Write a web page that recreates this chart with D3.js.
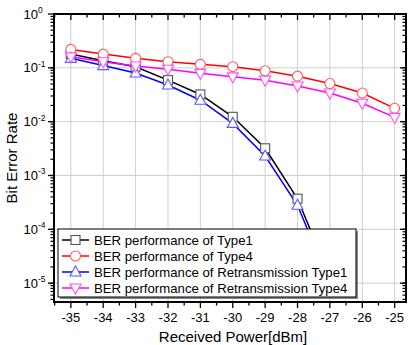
<!DOCTYPE html>
<html>
<head>
<meta charset="utf-8">
<script src="https://cdn.jsdelivr.net/npm/d3@7"></script>
<style>
  body { margin: 0; background: #fff; }
  svg { font-family: "Liberation Sans", Arial, sans-serif; }
</style>
</head>
<body>
<div id="chart"></div>
<script>
// received power (dBm)
var power = [-35, -34, -33, -32, -31, -30, -29, -28, -27, -26, -25];
var type1 = [0.18, 0.135, 0.105, 0.059, 0.032, 0.0123, 0.0032, 0.00037, 0.000013];
var type4 = [0.22, 0.18, 0.15, 0.13, 0.116, 0.105, 0.088, 0.07, 0.051, 0.034, 0.0177];
var reType1 = [0.15, 0.11, 0.08, 0.048, 0.025, 0.0093, 0.0023, 0.00028, 0.00001];
var reType4 = [0.16, 0.13, 0.108, 0.094, 0.079, 0.068, 0.059, 0.046, 0.034, 0.022, 0.012];
var names = ["BER performance of Type1", "BER performance of Type4",
             "BER performance of Retransmission Type1", "BER performance of Retransmission Type4"];
var decades = [0, -1, -2, -3, -4, -5];

var w = 410, h = 345;
var pL = 54, pR = 406, pT = 14, pB = 302;

var svg = d3.select('#chart').append('svg')
  .attr('width', w).attr('height', h);

var x = d3.scaleLinear().domain([-35.52, -24.65]).range([pL, pR]);
var y = d3.scaleLog().domain([Math.pow(10, -5.35), 1]).range([pB, pT]);

svg.append('defs').append('clipPath').attr('id', 'clip')
  .append('rect').attr('x', pL).attr('y', pT)
  .attr('width', pR - pL).attr('height', pB - pT);

// grid
svg.append('g').selectAll('line')
  .data(power).enter().append('line')
  .attr('x1', d => x(d)).attr('x2', d => x(d))
  .attr('y1', pT).attr('y2', pB)
  .attr('stroke', '#d0d0d0').attr('stroke-width', 1);
svg.append('g').selectAll('line')
  .data(decades).enter().append('line')
  .attr('x1', pL).attr('x2', pR)
  .attr('y1', d => y(Math.pow(10, d))).attr('y2', d => y(Math.pow(10, d)))
  .attr('stroke', '#d0d0d0').attr('stroke-width', 1);

// series
var series = [
  {vals: type1, line: '#000000', mark: '#555555', shape: 'square'},
  {vals: type4, line: '#ff0000', mark: '#ff5a5a', shape: 'circle'},
  {vals: reType1, line: '#0000ff', mark: '#5a5aff', shape: 'up'},
  {vals: reType4, line: '#ff00ff', mark: '#ff4dff', shape: 'down'}
];

var lineGen = d3.line().x(d => x(d[0])).y(d => y(d[1]));

function marker(sel, shape, color) {
  if (shape === 'square') {
    sel.append('rect').attr('x', -4.5).attr('y', -4.5).attr('width', 9).attr('height', 9);
  } else if (shape === 'circle') {
    sel.append('circle').attr('r', 5);
  } else if (shape === 'up') {
    sel.append('path').attr('d', 'M0,-6L5.5,4L-5.5,4Z');
  } else {
    sel.append('path').attr('d', 'M0,6L5.5,-4L-5.5,-4Z');
  }
  sel.selectAll('*').attr('fill', 'white').attr('stroke', color).attr('stroke-width', 1.1);
}

var plot = svg.append('g').attr('clip-path', 'url(#clip)');
series.forEach(function(s) {
  var pts = s.vals.map((v, i) => [power[i], v]);
  plot.append('path').datum(pts)
    .attr('d', lineGen)
    .attr('fill', 'none').attr('stroke', s.line).attr('stroke-width', 1.5);
});
series.forEach(function(s) {
  var pts = s.vals.map((v, i) => [power[i], v]);
  plot.selectAll(null).data(pts).enter().append('g')
    .attr('transform', d => 'translate(' + x(d[0]) + ',' + y(d[1]) + ')')
    .each(function() { marker(d3.select(this), s.shape, s.mark); });
});

// axes
var xMinor = d3.range(-35.5, -24.6, 0.5);
var yMinor = [];
decades.forEach(function(d) {
  for (var k = 1; k < 10; k++) {
    var v = k * Math.pow(10, d - 1);
    if (v >= y.domain()[0]) yMinor.push(v);
  }
});

var ax = svg.append('g').attr('stroke', '#000');
// bottom: outward ticks
ax.selectAll(null).data(xMinor).enter().append('line')
  .attr('x1', d => x(d)).attr('x2', d => x(d))
  .attr('y1', pB).attr('y2', d => pB + (Number.isInteger(d) ? 6 : 3.5))
  .attr('stroke-width', 1.3);
// top: inward ticks
ax.selectAll(null).data(xMinor).enter().append('line')
  .attr('x1', d => x(d)).attr('x2', d => x(d))
  .attr('y1', pT).attr('y2', d => pT + (Number.isInteger(d) ? 6 : 3.5))
  .attr('stroke-width', 1.3);
// left: outward
ax.selectAll(null).data(yMinor).enter().append('line')
  .attr('y1', d => y(d)).attr('y2', d => y(d))
  .attr('x1', pL).attr('x2', pL - 3.5).attr('stroke-width', 1.2);
ax.selectAll(null).data(decades).enter().append('line')
  .attr('y1', d => y(Math.pow(10, d))).attr('y2', d => y(Math.pow(10, d)))
  .attr('x1', pL).attr('x2', pL - 6).attr('stroke-width', 1.3);
// right: inward
ax.selectAll(null).data(yMinor).enter().append('line')
  .attr('y1', d => y(d)).attr('y2', d => y(d))
  .attr('x1', pR).attr('x2', pR - 3.5).attr('stroke-width', 1.2);
ax.selectAll(null).data(decades).enter().append('line')
  .attr('y1', d => y(Math.pow(10, d))).attr('y2', d => y(Math.pow(10, d)))
  .attr('x1', pR).attr('x2', pR - 6).attr('stroke-width', 1.3);

svg.append('rect')
  .attr('x', pL).attr('y', pT)
  .attr('width', pR - pL).attr('height', pB - pT)
  .attr('fill', 'none').attr('stroke', '#000').attr('stroke-width', 2);

// tick labels
svg.append('g').selectAll('text')
  .data(power).enter().append('text')
  .attr('x', d => x(d)).attr('y', pB + 20)
  .attr('text-anchor', 'middle').attr('font-size', 13)
  .text(d => d);

var yl = svg.append('g').selectAll('text')
  .data(decades).enter().append('text')
  .attr('x', pL - 16).attr('y', d => y(Math.pow(10, d)) + 4.5)
  .attr('text-anchor', 'end').attr('font-size', 13)
  .text('10');
svg.append('g').selectAll('text')
  .data(decades).enter().append('text')
  .attr('x', pL - 16).attr('y', d => y(Math.pow(10, d)) - 1)
  .attr('text-anchor', 'start').attr('font-size', 8.5)
  .text(d => d);

// axis titles
svg.append('text')
  .attr('x', 233).attr('y', 342)
  .attr('text-anchor', 'middle').attr('font-size', 15)
  .text('Received Power[dBm]');
svg.append('text')
  .attr('transform', 'translate(17,' + ((pT + pB) / 2) + ') rotate(-90)')
  .attr('text-anchor', 'middle').attr('font-size', 15)
  .text('Bit Error Rate');

// legend
var lg = svg.append('g');
lg.append('rect').attr('x', 60).attr('y', 231).attr('width', 298).attr('height', 68)
  .attr('fill', '#888');
lg.append('rect').attr('x', 58).attr('y', 229).attr('width', 298).attr('height', 68)
  .attr('fill', 'white').attr('stroke', '#000').attr('stroke-width', 1);
names.forEach(function(n, i) {
  var cy = 240 + i * 16;
  lg.append('line').attr('x1', 62).attr('x2', 89).attr('y1', cy).attr('y2', cy)
    .attr('stroke', series[i].line).attr('stroke-width', 1.5);
  var m = lg.append('g').attr('transform', 'translate(75.5,' + cy + ')');
  marker(m, series[i].shape, series[i].mark);
  lg.append('text').attr('x', 94).attr('y', cy + 5)
    .attr('font-size', 13.2).text(n);
});
</script>
</body>
</html>
